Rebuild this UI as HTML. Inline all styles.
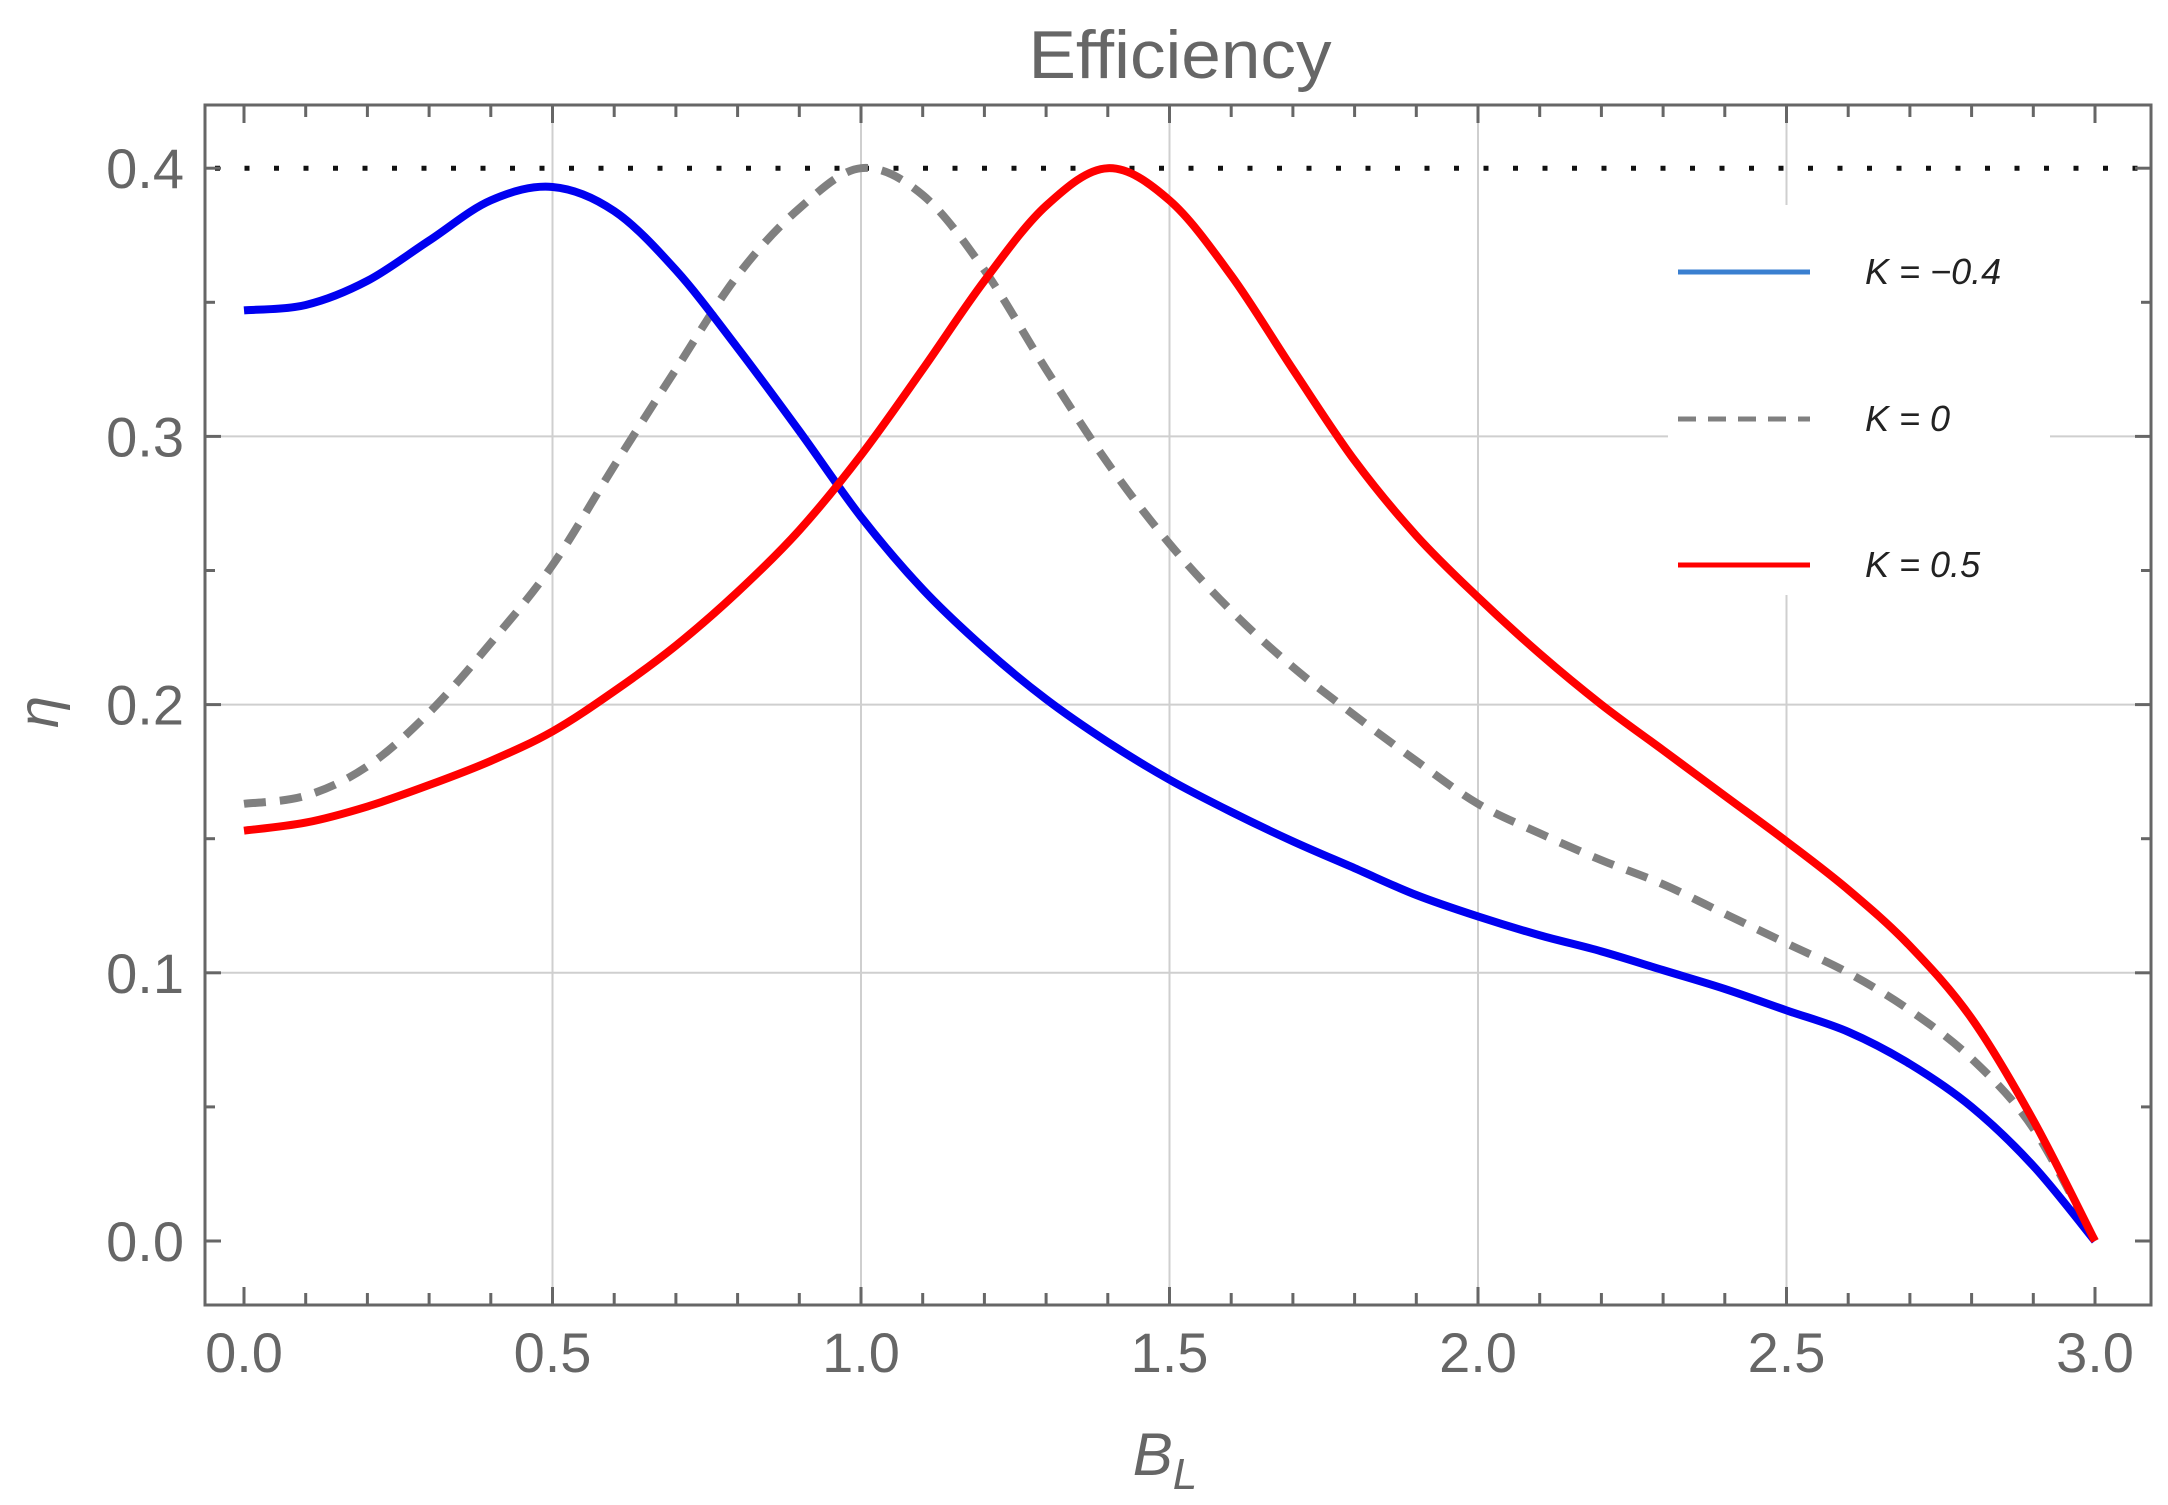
<!DOCTYPE html>
<html><head><meta charset="utf-8"><style>
html,body{margin:0;padding:0;background:#fff;}
svg{display:block;}
text{font-family:"Liberation Sans",sans-serif;}
</style></head><body>
<svg id="chart" width="2168" height="1505" viewBox="0 0 2168 1505" xmlns="http://www.w3.org/2000/svg">
<rect x="0" y="0" width="2168" height="1505" fill="#fff"/>
<g id="grid"></g>
<g id="refline"></g>
<g id="series"></g>
<g id="axes"></g>
<g id="legend"></g>
<text x="1180" y="78" font-size="68" fill="#666" text-anchor="middle" textLength="303" lengthAdjust="spacingAndGlyphs">Efficiency</text>
<text x="1165" y="1475" font-size="60" fill="#666" font-style="italic" text-anchor="middle">B<tspan font-size="44" dy="14">L</tspan></text>
<text x="58" y="712" font-size="58" fill="#666" font-style="italic" text-anchor="middle" transform="rotate(-90 58 712)">η</text>
</svg>
<script>
const xVals=[0,0.1,0.2,0.3,0.4,0.5,0.6,0.7,0.8,0.9,1.0,1.1,1.2,1.3,1.4,1.5,1.6,1.7,1.8,1.9,2.0,2.1,2.2,2.3,2.4,2.5,2.6,2.7,2.8,2.9,3.0];
const blueVals=[0.347,0.349,0.358,0.373,0.388,0.393,0.384,0.362,0.333,0.302,0.270,0.243,0.221,0.202,0.186,0.172,0.160,0.149,0.139,0.129,0.121,0.114,0.108,0.101,0.094,0.086,0.078,0.066,0.050,0.028,0.0];
const greyVals=[0.163,0.166,0.177,0.197,0.223,0.252,0.289,0.325,0.360,0.385,0.400,0.390,0.362,0.325,0.290,0.260,0.235,0.214,0.196,0.179,0.163,0.152,0.142,0.133,0.122,0.111,0.100,0.086,0.068,0.042,0.0];
const redVals=[0.153,0.156,0.162,0.170,0.179,0.190,0.205,0.222,0.242,0.265,0.293,0.325,0.358,0.386,0.400,0.388,0.360,0.325,0.291,0.263,0.240,0.219,0.200,0.183,0.166,0.149,0.131,0.110,0.083,0.045,0.0];
const xTicks=["0.0","0.5","1.0","1.5","2.0","2.5","3.0"];
const yTicks=["0.0","0.1","0.2","0.3","0.4"];
const refValue=0.4;
const legendLabels=["K = −0.4","K = 0","K = 0.5"];

const NS="http://www.w3.org/2000/svg";
const X0=244,XS=617,Y0=1241,YS=2682;
const L=205,R=2151,T=105,B=1305;
const sx=v=>X0+v*XS, sy=v=>Y0-v*YS;
function mk(tag,attrs,parent){const e=document.createElementNS(NS,tag);for(const k in attrs)e.setAttribute(k,attrs[k]);parent.appendChild(e);return e;}
const grid=document.getElementById('grid'),axes=document.getElementById('axes'),ser=document.getElementById('series'),leg=document.getElementById('legend'),ref=document.getElementById('refline');

xTicks.forEach(t=>{const v=parseFloat(t);if(v>0&&v<3){
 const g=mk('line',{x1:sx(v),x2:sx(v),y1:T,y2:B,stroke:'#cfcfcf','stroke-width':2},grid);
 
 }});
yTicks.forEach(t=>{const v=parseFloat(t);if(v>0&&v<0.4){
 const g=mk('line',{x1:L,x2:R,y1:sy(v),y2:sy(v),stroke:'#cfcfcf','stroke-width':2},grid);
 
 }});

const rl=mk('line',{x1:L+10,x2:R,y1:sy(refValue),y2:sy(refValue),stroke:'#111','stroke-width':5,'stroke-dasharray':'5 24.5'},ref);



function pathD(ys){const p=xVals.map((x,i)=>[sx(x),sy(ys[i])]);let d=`M${p[0][0]},${p[0][1]}`;
 for(let i=0;i<p.length-1;i++){const p0=p[Math.max(0,i-1)],p1=p[i],p2=p[i+1],p3=p[Math.min(p.length-1,i+2)];
  const c1=[p1[0]+(p2[0]-p0[0])/6,p1[1]+(p2[1]-p0[1])/6],c2=[p2[0]-(p3[0]-p1[0])/6,p2[1]-(p3[1]-p1[1])/6];
  d+=` C${c1[0]},${c1[1]} ${c2[0]},${c2[1]} ${p2[0]},${p2[1]}`;}return d;}
const s1=mk('path',{d:pathD(greyVals),fill:'none',stroke:'#808080','stroke-width':8,'stroke-dasharray':'22 14'},ser);


const s2=mk('path',{d:pathD(blueVals),fill:'none',stroke:'#0000f0','stroke-width':8},ser);


const s3=mk('path',{d:pathD(redVals),fill:'none',stroke:'#ff0000','stroke-width':8},ser);



const frame=mk('rect',{x:L,y:T,width:R-L,height:B-T,fill:'none',stroke:'#666','stroke-width':3},axes);


for(let i=0;i<=30;i++){const v=i/10,len=(i%5===0)?18:12,x=sx(v);
 mk('line',{x1:x,x2:x,y1:B,y2:B-len,stroke:'#666','stroke-width':3},axes);
 mk('line',{x1:x,x2:x,y1:T,y2:T+len,stroke:'#666','stroke-width':3},axes);}
for(let i=-1;i<=8;i++){const v=i/20,y=sy(v);if(y<T||y>B)continue;const len=(i%2===0)?16:10;
 mk('line',{x1:L,x2:L+len,y1:y,y2:y,stroke:'#666','stroke-width':3},axes);
 mk('line',{x1:R,x2:R-len,y1:y,y2:y,stroke:'#666','stroke-width':3},axes);}
xTicks.forEach(t=>{const e=mk('text',{x:sx(parseFloat(t)),y:1372,'font-size':56,fill:'#666','text-anchor':'middle'},axes);e.textContent=t;
 
 });
yTicks.forEach(t=>{const e=mk('text',{x:184,y:sy(parseFloat(t))+20,'font-size':56,fill:'#666','text-anchor':'end'},axes);e.textContent=t;
 
 });

const bg=mk('rect',{x:1668,y:205,width:382,height:390,fill:'#fff'},leg);


const styles=[{stroke:'#3a7fd0'},{stroke:'#808080','stroke-dasharray':'18 12'},{stroke:'#ff0000'}];
const ly=[272,419,565];
legendLabels.forEach((lab,i)=>{
 const ln=mk('line',Object.assign({x1:1678,x2:1810,y1:ly[i],y2:ly[i],'stroke-width':5},styles[i]),leg);
 
 
 const tx=mk('text',{x:1865,y:ly[i]+12,'font-size':36,fill:'#222','font-style':'italic','font-family':'Liberation Serif, serif'},leg);
 tx.textContent=lab;
 
 
});
</script>
</body></html>
